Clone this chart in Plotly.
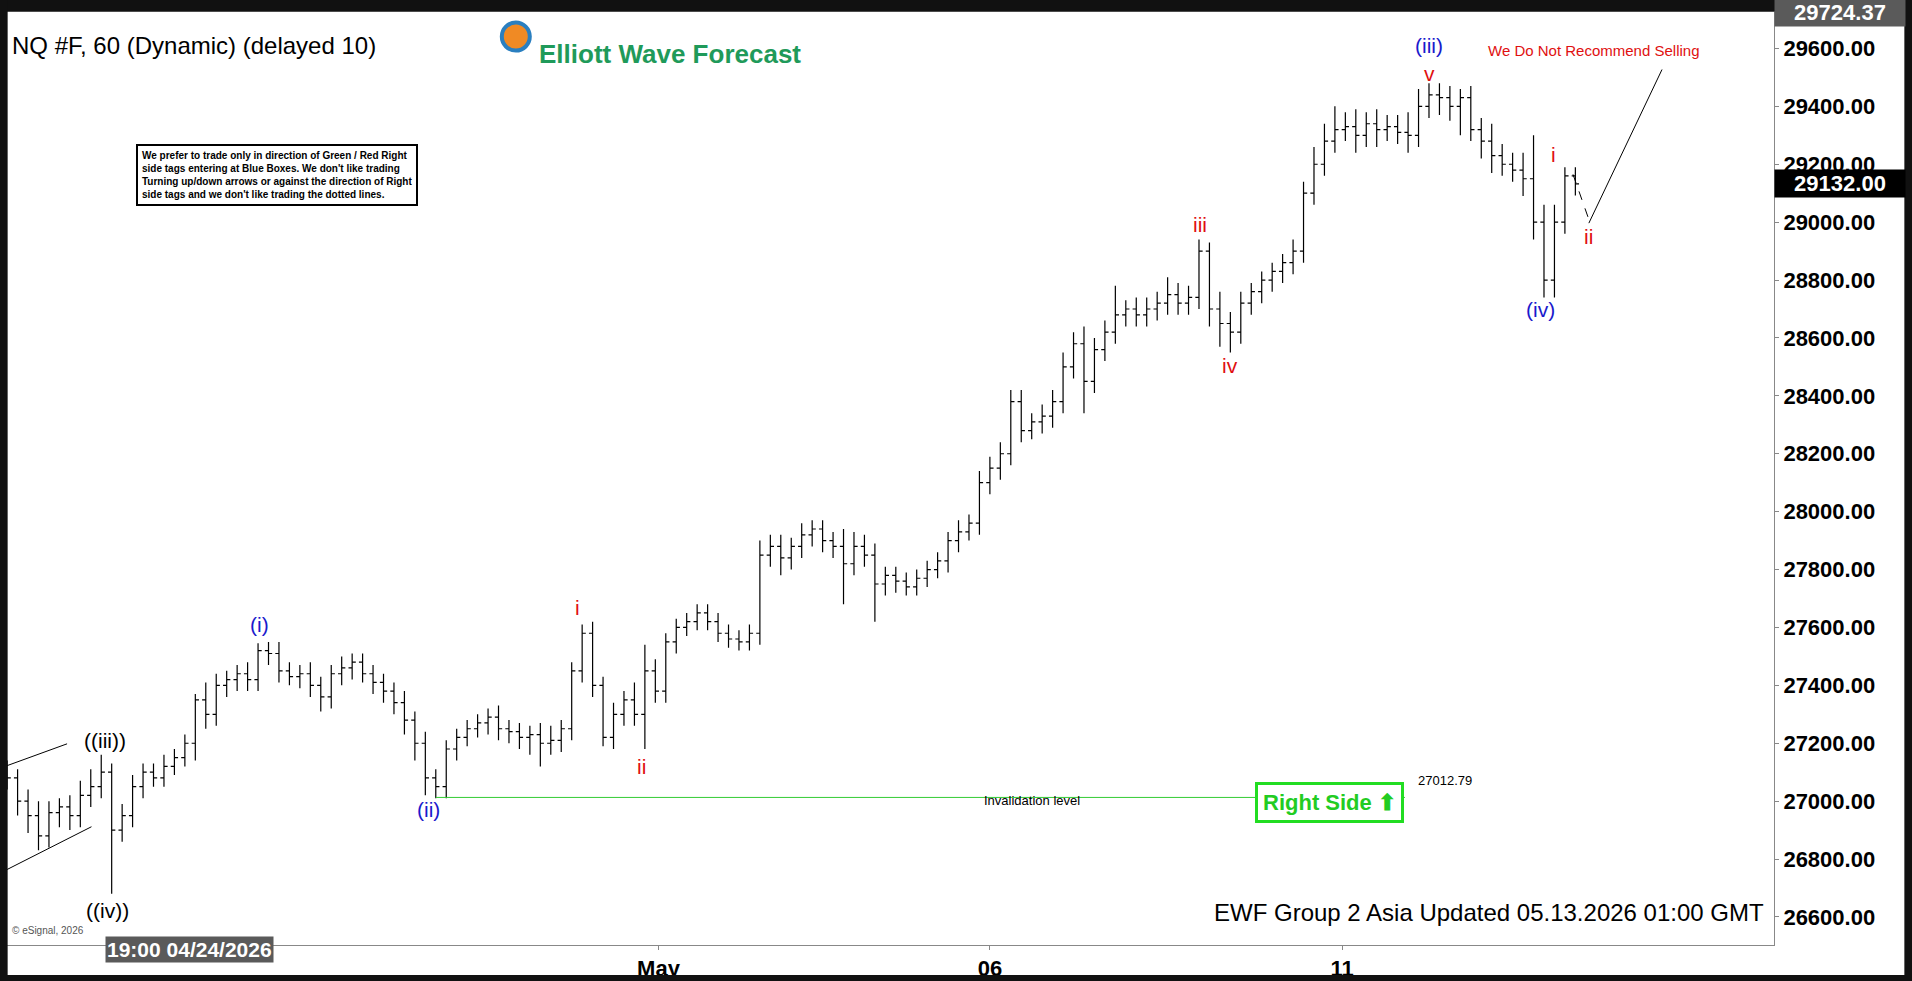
import plotly.graph_objects as go

# hourly NQ bars (approx. every second bar)
closes = [
    27080, 27000, 26950, 26880, 26960, 26980, 26950, 27020, 27050, 27100,
    26900, 26950, 27050, 27100, 27080, 27120, 27150, 27200, 27350, 27300,
    27400, 27420, 27440, 27420, 27520, 27510, 27450, 27430, 27440, 27400,
    27360, 27440, 27460, 27480, 27440, 27410, 27380, 27340, 27280, 27200,
    27080, 27050, 27180, 27220, 27250, 27270, 27290, 27250, 27240, 27220,
    27230, 27200, 27210, 27250, 27450, 27580, 27400, 27220, 27300, 27350,
    27300, 27450, 27380, 27550, 27600, 27620, 27650, 27620, 27580, 27560,
    27550, 27580, 27850, 27880, 27840, 27880, 27920, 27940, 27900, 27880,
    27820, 27880, 27850, 27750, 27780, 27760, 27740, 27770, 27800, 27830,
    27900, 27930, 27960, 28100, 28150, 28200, 28380, 28280, 28310, 28330,
    28380, 28500, 28580, 28450, 28560, 28620, 28680, 28700, 28680, 28700,
    28720, 28750, 28720, 28740, 28900, 28700, 28650, 28620, 28720, 28760,
    28800, 28830, 28860, 28900, 29100, 29200, 29280, 29320, 29330, 29300,
    29340, 29320, 29330, 29310, 29300, 29400, 29440, 29430, 29400, 29430,
    29320, 29280, 29230, 29200, 29180, 29150, 29000, 28800, 29000, 29160,
    29132,
]
wick_up = [
    40, 30, 40, 50, 40, 30, 40, 50, 60, 60, 30, 40, 40, 30, 30, 40, 30, 30, 20, 60,
    40, 30, 30, 40, 25, 30, 40, 30, 30, 40, 30, 30, 40, 30, 30, 30, 30, 30, 40, 30,
    40, 30, 30, 30, 30, 30, 30, 40, 30, 30, 30, 40, 50, 30, 30, 30, 40, 30, 40, 30,
    60, 90, 40, 30, 30, 30, 30, 30, 30, 30, 30, 30, 50, 40, 40, 30, 40, 30, 30, 30,
    60, 50, 40, 40, 30, 30, 30, 30, 30, 30, 30, 40, 30, 40, 40, 40, 40, 40, 30, 40,
    40, 50, 40, 60, 40, 40, 100, 30, 40, 40, 40, 60, 40, 40, 40, 30, 60, 40, 40, 30,
    30, 30, 30, 40, 40, 60, 60, 80, 50, 60, 40, 50, 40, 40, 70, 60, 40, 40, 40, 30,
    40, 40, 60, 40, 40, 60, 150, 60, 60, 30, 30,
]
wick_dn = [
    40, 50, 60, 50, 40, 50, 50, 40, 40, 40, 220, 40, 40, 40, 30, 30, 30, 30, 60, 50,
    40, 40, 40, 40, 40, 40, 40, 30, 40, 40, 50, 40, 40, 40, 30, 40, 40, 40, 50, 60,
    60, 40, 40, 40, 30, 30, 40, 40, 40, 40, 60, 80, 40, 40, 40, 40, 40, 30, 40, 40,
    40, 120, 40, 40, 40, 30, 30, 30, 30, 30, 30, 30, 40, 40, 60, 40, 40, 40, 40, 40,
    140, 40, 40, 130, 40, 40, 30, 30, 30, 30, 40, 40, 30, 40, 40, 40, 40, 40, 30, 40,
    40, 40, 40, 110, 40, 40, 40, 40, 40, 40, 40, 40, 40, 40, 40, 60, 80, 70, 40, 40,
    40, 40, 40, 40, 40, 40, 40, 40, 40, 60, 40, 60, 40, 40, 60, 40, 40, 60, 50, 100,
    40, 60, 60, 40, 40, 60, 60, 60, 60, 40, 40,
]
y_ticks = [26600 + 200 * k for k in range(16)]
x_tick_pos = [62.3, 94.0, 127.7]
x_tick_text = ["May", "06", "11"]
invalidation = 27012.79
last_price = 29132.00
top_price = 29724.37

opens = [27100] + closes[:-1]
highs = [max(o, c) + u for o, c, u in zip(opens, closes, wick_up)]
lows = [min(o, c) - d for o, c, d in zip(opens, closes, wick_dn)]
idx = list(range(len(closes)))

W, H = 1912, 981
S = W / 1568
L, R, T, B = 4, 138, 12, 36
PW, PH = W - L - R, H - T - B


def pp(x, y):
    # reference pixel (1568-wide screenshot) -> paper coords
    return (x * S - L) / PW, 1 - (y * S - T) / PH


fig = go.Figure()
fig.add_trace(
    go.Ohlc(
        x=idx, open=opens, high=highs, low=lows, close=closes,
        increasing_line_color="black", decreasing_line_color="black",
        line_width=1.2, tickwidth=0.35, hoverinfo="skip",
    )
)

# invalidation line
fig.add_shape(type="line", x0=41, x1=133.7, y0=invalidation, y1=invalidation,
              line=dict(color="#33cc33", width=1))

font = "Arial"
labels = [
    ("((iii))", 86, 607, "black"),
    ("((iv))", 88, 747, "black"),
    ("(i)", 213, 512, "#1a1acc"),
    ("(ii)", 351, 664, "#1a1acc"),
    ("i", 474, 498, "#e01010"),
    ("ii", 526, 629, "#e01010"),
    ("iii", 984, 184, "#e01010"),
    ("iv", 1009, 300, "#e01010"),
    ("(iii)", 1172, 37, "#1a1acc"),
    ("v", 1172, 60, "#e01010"),
    ("(iv)", 1263, 254, "#1a1acc"),
    ("i", 1274, 127, "#e01010"),
    ("ii", 1303, 194, "#e01010"),
]
for txt, x, y, col in labels:
    px, py = pp(x, y)
    fig.add_annotation(x=px, y=py, xref="paper", yref="paper", text=txt,
                       xanchor="center", yanchor="middle", showarrow=False,
                       font=dict(family=font, size=21, color=col))

texts = [
    ("NQ #F, 60 (Dynamic) (delayed 10)", 8, 25, "black", 24, "left"),
    ("We Do Not Recommend Selling", 1307, 33, "#e01010", 15, "center"),
    ("27012.79", 1185, 648, "black", 13, "center"),
    ("Invalidation level", 846, 664, "black", 13, "center"),
    ("EWF Group 2 Asia Updated 05.13.2026 01:00 GMT", 1448, 761, "black", 24, "right"),
    ("© eSignal, 2026", 8, 769, "#555", 10, "left"),
]
for txt, x, y, col, sz, al in texts:
    px, py = pp(x, y)
    fig.add_annotation(x=px, y=py, xref="paper", yref="paper", text=txt, xanchor=al,
                       showarrow=False, font=dict(family=font, size=sz, color=col))

# logo
px, py = pp(440, 30)
fig.add_annotation(x=px, y=py, xref="paper", yref="paper", showarrow=False,
                   xanchor="left", text="<b>Elliott Wave Forecast</b>",
                   font=dict(family=font, size=26, color="#1f9a5a"))
cx, cy = pp(423, 30)
fig.add_shape(type="circle", xref="paper", yref="paper",
              x0=cx - 14 / PW, x1=cx + 14 / PW, y0=cy - 14 / PH, y1=cy + 14 / PH,
              line=dict(color="#2a7fc0", width=4), fillcolor="#f08a24")

# rules box
bx, by = pp(227, 118)
fig.add_annotation(
    x=bx, y=by, xref="paper", yref="paper", showarrow=False, align="left",
    xanchor="center",
    text="<b>We prefer to trade only in direction of Green / Red Right<br>"
         "side tags entering at Blue Boxes. We don't like trading<br>"
         "Turning up/down arrows or against the direction of Right<br>"
         "side tags and we don't like trading the dotted lines.</b>",
    font=dict(family=font, size=10, color="black"),
    bordercolor="black", borderwidth=2, bgcolor="white", borderpad=4,
)

# right side tag
rx, ry = pp(1090, 675)
fig.add_annotation(x=rx, y=ry, xref="paper", yref="paper", showarrow=False,
                   xanchor="center", text="<b>Right Side ⬆</b>",
                   font=dict(family=font, size=22, color="#22cc22"),
                   bordercolor="#22dd22", borderwidth=3, bgcolor="white", borderpad=5)

# wedge and projection lines
for (x0, y0, x1, y1, dash) in [
    (0, 630, 55, 610, "solid"), (0, 716, 75, 678, "solid"),
    (1290, 143, 1303, 180, "dash"), (1303, 183, 1363, 57, "solid"),
]:
    a, b = pp(x0, y0)
    c, d = pp(x1, y1)
    fig.add_shape(type="line", xref="paper", yref="paper", x0=a, y0=b, x1=c, y1=d,
                  line=dict(color="black", width=1, dash=dash))

# axis price tags
for price, bg in [(top_price, "#5a5a5a"), (last_price, "black")]:
    fig.add_annotation(x=1.0, y=price, xref="paper", yref="y", xanchor="left",
                       text=f"<b>{price:.2f}</b>", showarrow=False,
                       font=dict(family=font, size=22, color="white"),
                       bgcolor=bg, borderpad=1, width=128)

tx, ty = pp(155, 790)
fig.add_annotation(x=tx, y=ty, xref="paper", yref="paper", showarrow=False,
                   xanchor="center", text="<b>19:00 04/24/2026</b>", bgcolor="#5a5a5a",
                   font=dict(family=font, size=21, color="white"))

fig.update_layout(
    width=W, height=H, margin=dict(l=L, r=R, t=T, b=B, autoexpand=False),
    paper_bgcolor="white", plot_bgcolor="white", showlegend=False,
    xaxis=dict(range=[-0.3, 169], rangeslider=dict(visible=False), automargin=False,
               tickvals=x_tick_pos, ticktext=x_tick_text, ticks="outside",
               ticklen=4, tickcolor="#888", showgrid=False, zeroline=False,
               showline=True, linecolor="#888",
               tickfont=dict(family=font, size=22, color="black", weight="bold")),
    yaxis=dict(range=[26503, 29726], side="right", tickvals=y_ticks, automargin=False,
               tickformat=".2f", ticks="outside", ticklen=4, tickcolor="#888",
               showgrid=False, zeroline=False, showline=True, linecolor="#888",
               tickfont=dict(family=font, size=22, color="black", weight="bold")),
)

# dark window frame
for x0, y0, x1, y1 in [(0, 0, 1, 0.012), (0, 0, 0.004, 1), (0.996, 0, 1, 1), (0, 0.994, 1, 1)]:
    fig.add_shape(type="rect", xref="paper", yref="paper", layer="above",
                  x0=(x0 * W - L) / PW, x1=(x1 * W - L) / PW,
                  y0=1 - (y0 * H - T) / PH, y1=1 - (y1 * H - T) / PH,
                  fillcolor="#111", line_width=0)

fig.write_html("out.html", config={"displayModeBar": False},
               post_script="document.body.style.margin='0';")
